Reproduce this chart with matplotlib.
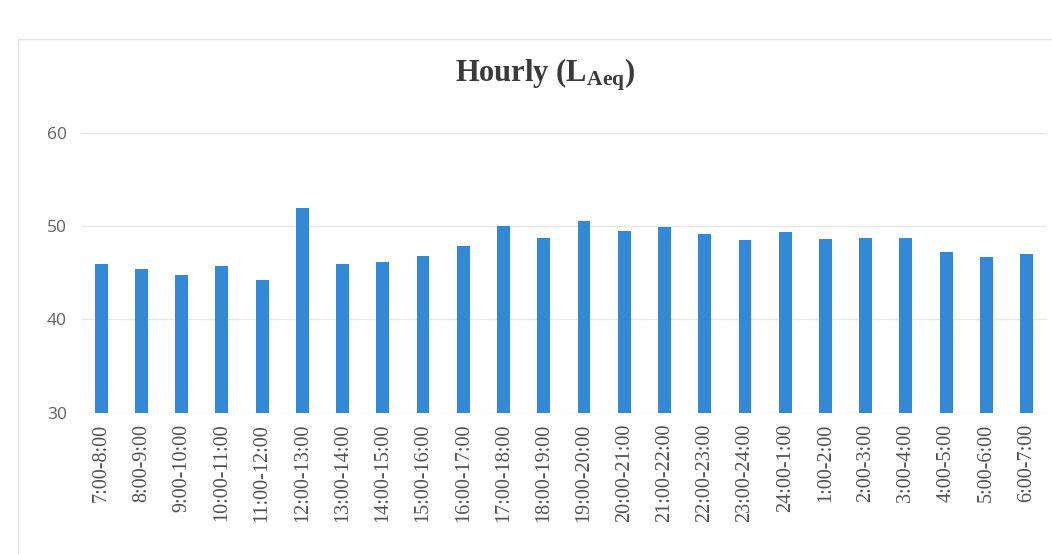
import matplotlib
matplotlib.use('Agg')
import matplotlib.pyplot as plt
from matplotlib.patches import Rectangle

# ---- data ----
periods = ['7:00-8:00', '8:00-9:00', '9:00-10:00', '10:00-11:00', '11:00-12:00',
           '12:00-13:00', '13:00-14:00', '14:00-15:00', '15:00-16:00', '16:00-17:00',
           '17:00-18:00', '18:00-19:00', '19:00-20:00', '20:00-21:00', '21:00-22:00',
           '22:00-23:00', '23:00-24:00', '24:00-1:00', '1:00-2:00', '2:00-3:00',
           '3:00-4:00', '4:00-5:00', '5:00-6:00', '6:00-7:00']
laeq = [46.0, 45.4, 44.8, 45.7, 44.2,
        52.0, 46.0, 46.2, 46.8, 47.9,
        50.0, 48.7, 50.6, 49.5, 49.9,
        49.2, 48.5, 49.4, 48.6, 48.7,
        48.7, 47.2, 46.7, 47.0]
y_ticks = [30, 40, 50, 60]

plt.rcParams['mathtext.fontset'] = 'custom'
plt.rcParams['mathtext.rm'] = 'Liberation Serif:bold'
plt.rcParams['mathtext.it'] = 'Liberation Serif:bold'
plt.rcParams['mathtext.bf'] = 'Liberation Serif:bold'

fig = plt.figure(figsize=(10.52, 5.54), dpi=100)
ax = fig.add_axes([0.077, 0.255, 0.918, 0.505])

x = range(len(periods))
ax.bar(x, [v - 30 for v in laeq], bottom=30, width=0.32, color='#3389d6', zorder=3)

ax.set_ylim(30, 60)
ax.set_xlim(-0.5, len(periods) - 0.5)
ax.set_yticks(y_ticks)
ax.set_yticklabels([str(t) for t in y_ticks], family='Open Sans', fontsize=12.5, color='#606060')
ax.set_xticks(list(x))
ax.set_xticklabels(periods, rotation=90, family='Liberation Serif', fontsize=14.5, color='#505050')
ax.tick_params(axis='both', length=0)
ax.tick_params(axis='y', pad=10)
ax.tick_params(axis='x', pad=8)

ax.grid(axis='y', color='#e8e8e8', linewidth=1, zorder=0)
for s in ax.spines.values():
    s.set_visible(False)

fig.text(0.518, 0.866, r'Hourly (L$_{\mathrm{Aeq}}$)', ha='center', va='center',
         family='Liberation Serif', fontweight='bold', fontsize=22, color='#3a3a3a')

# faint outline of the chart area
fig.patches.append(Rectangle((0.017, -0.1), 1.1, 1.03, transform=fig.transFigure,
                             fill=False, edgecolor='#e4e4e4', linewidth=1))

fig.savefig('out.png', dpi=100, facecolor='white')
